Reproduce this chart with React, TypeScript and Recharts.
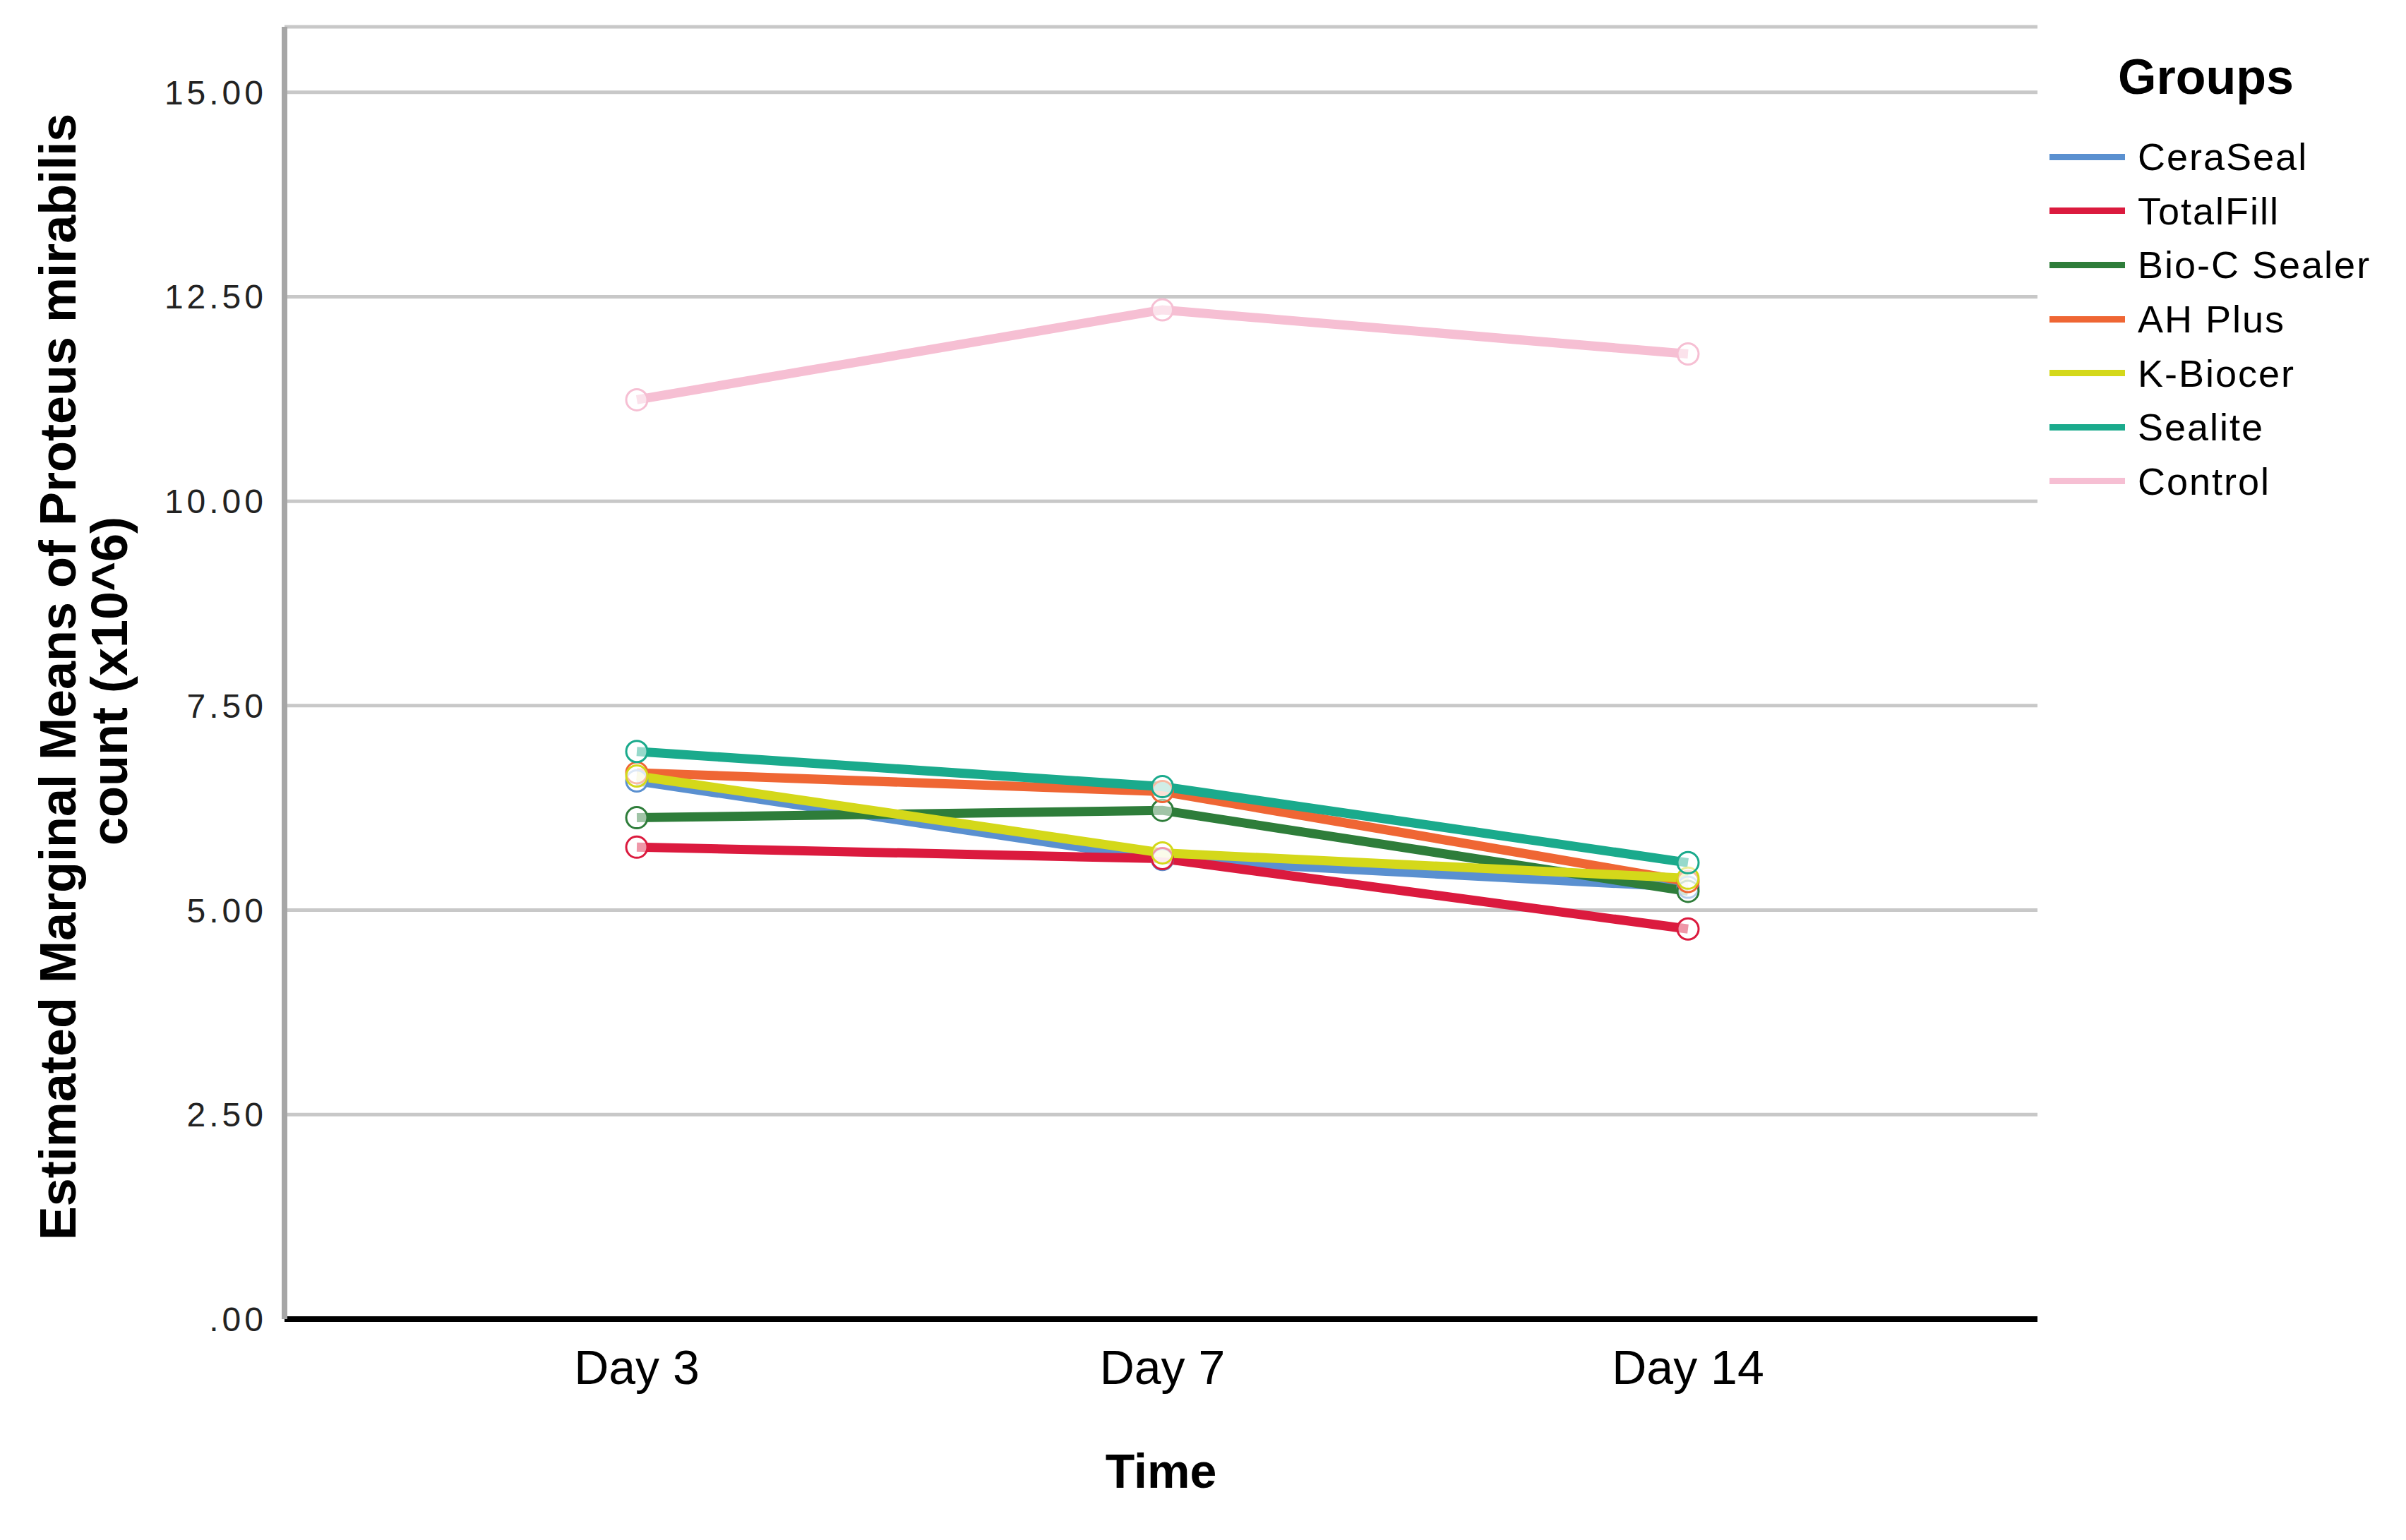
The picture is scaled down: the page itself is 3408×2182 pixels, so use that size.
import React from 'react';
import { LineChart, Line, XAxis, YAxis, CartesianGrid, Legend, Label } from 'recharts';

// time points on the x axis
const days = ['Day 3', 'Day 7', 'Day 14'];

// estimated marginal means (x10^6)
const ceraSeal = [6.58, 5.62, 5.28];
const totalFill = [5.77, 5.63, 4.77];
const bioC = [6.13, 6.22, 5.23];
const ahPlus = [6.68, 6.45, 5.35];
const kBiocer = [6.64, 5.70, 5.39];
const sealite = [6.94, 6.51, 5.58];
const control = [11.24, 12.34, 11.80];

const yTicks = [0, 2.5, 5, 7.5, 10, 12.5, 15];

const groups = [
  { key: 'CeraSeal', values: ceraSeal, color: '#5a90d0' },
  { key: 'TotalFill', values: totalFill, color: '#db1a3e' },
  { key: 'Bio-C Sealer', values: bioC, color: '#2e7d3a' },
  { key: 'AH Plus', values: ahPlus, color: '#ef6634' },
  { key: 'K-Biocer', values: kBiocer, color: '#d4d81a' },
  { key: 'Sealite', values: sealite, color: '#1aaa8c' },
  { key: 'Control', values: control, color: '#f6bfd3' },
];

const chartData = days.map((day, i) => {
  const row: Record<string, string | number> = { name: day };
  groups.forEach(g => {
    row[g.key] = g.values[i];
  });
  return row;
});

const FONT = '"Liberation Sans", Arial, sans-serif';

const renderYTitle = () => (
  <g fontFamily={FONT} fontWeight="bold" fontSize={72} fill="#000">
    <text x={107} y={959} transform="rotate(-90 107 959)" textAnchor="middle">
      Estimated Marginal Means of Proteus mirabilis
    </text>
    <text x={180} y={965} transform="rotate(-90 180 965)" textAnchor="middle">
      count (x10^6)
    </text>
  </g>
);

// legend keeps the group order (Recharts would sort it by name)
const renderLegend = () => (
  <div style={{ fontFamily: FONT, color: '#000' }}>
    <div style={{ fontSize: 70, fontWeight: 'bold', lineHeight: '80px', height: 80, paddingLeft: 97 }}>
      Groups
    </div>
    <div style={{ height: 35 }} />
    {groups.map(g => (
      <div key={g.key} style={{ display: 'flex', alignItems: 'center', height: 76.6 }}>
        <div style={{ width: 107, height: 9, background: g.color, marginRight: 18 }} />
        <span style={{ fontSize: 54, letterSpacing: 2, lineHeight: '76px', whiteSpace: 'nowrap' }}>
          {g.key}
        </span>
      </div>
    ))}
  </div>
);

export default function App() {
  return (
    <div style={{ position: 'absolute', left: 0, top: 0, background: '#fff' }}>
      <LineChart
        width={3408}
        height={2182}
        data={chartData}
        margin={{ top: 38, right: 522, left: 253, bottom: 163 }}
      >
        <CartesianGrid vertical={false} stroke="#c8c8c8" strokeWidth={5} />
        <XAxis
          dataKey="name"
          padding={{ left: 499, right: 495 }}
          axisLine={{ stroke: '#000', strokeWidth: 8 }}
          tickLine={false}
          tickSize={0}
          tickMargin={44}
          height={150}
          tick={{ fill: '#000', fontSize: 68, fontFamily: FONT }}
        >
          <Label
            value="Time"
            position="bottom"
            offset={41}
            style={{ fontFamily: FONT, fontSize: 68, fontWeight: 'bold', fill: '#000' }}
          />
        </XAxis>
        <YAxis
          type="number"
          domain={[0, 15.8]}
          ticks={yTicks}
          width={150}
          axisLine={{ stroke: '#a6a6a6', strokeWidth: 8 }}
          tickLine={false}
          tickSize={0}
          tickMargin={25}
          tickFormatter={(v: number) => (v === 0 ? '.00' : v.toFixed(2))}
          tick={{ fill: '#222', fontSize: 48, fontFamily: FONT, letterSpacing: 5 }}
        >
          <Label content={renderYTitle} />
        </YAxis>
        <Legend
          layout="vertical"
          align="center"
          verticalAlign="middle"
          content={renderLegend}
          wrapperStyle={{ left: 2903, top: 69, width: 505 }}
        />
        {groups.map(g => (
          <Line
            key={g.key}
            type="linear"
            dataKey={g.key}
            stroke={g.color}
            strokeWidth={13}
            dot={{ r: 15, stroke: g.color, strokeWidth: 3, fill: '#ffffff', fillOpacity: 0.55 }}
            activeDot={false}
            isAnimationActive={false}
          />
        ))}
      </LineChart>
    </div>
  );
}
